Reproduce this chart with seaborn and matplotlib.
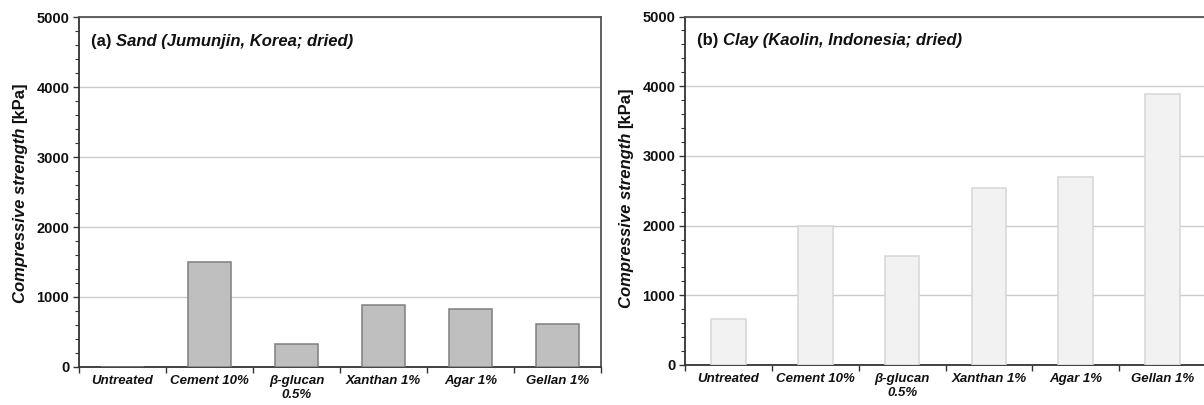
import matplotlib
matplotlib.use("Agg")
import matplotlib.pyplot as plt
import matplotlib.transforms as mtransforms
from matplotlib.ticker import MultipleLocator, FixedLocator
import seaborn as sns
import pandas as pd

# ---- data -------------------------------------------------------------
categories = ["Untreated", "Cement 10%", "β-glucan\n0.5%", "Xanthan 1%", "Agar 1%", "Gellan 1%"]
sand_strength = [0, 1500, 330, 880, 830, 610]      # kPa
clay_strength = [660, 2000, 1570, 2540, 2700, 3890]  # kPa

panel_tags = ["(a)", "(b)"]
panel_titles = ["Sand (Jumunjin, Korea; dried)", "Clay (Kaolin, Indonesia; dried)"]
ylabel_main = "Compressive strength"
ylabel_unit = "[kPa]"
y_ticks = [0, 1000, 2000, 3000, 4000, 5000]

# ---- style ------------------------------------------------------------
sns.set_theme(style="white")
plt.rcParams["font.family"] = ["Liberation Sans", "DejaVu Sans"]
plt.rcParams["font.weight"] = "bold"

fig = plt.figure(figsize=(12.04, 4.05), dpi=100)
ax_a = fig.add_axes([79 / 1204, 38 / 405, 522 / 1204, 350 / 405])
ax_b = fig.add_axes([685 / 1204, 40 / 405, 521 / 1204, 348.5 / 405])

panels = [
    (ax_a, sand_strength, "#bfbfbf", "#7f7f7f", 0.5),
    (ax_b, clay_strength, "#f2f2f2", "#d6d6d6", 0.4),
]

renderer = fig.canvas.get_renderer()


def chained_text(ax, x, y, pieces, rotation=0, center=False, **kw):
    """Draw consecutive text pieces with different styles along one line."""
    texts = []
    sizes = []
    for s, style in pieces:
        t = ax.text(x, y, s, transform=ax.transAxes, fontstyle=style,
                    rotation=rotation, rotation_mode="anchor", ha="left", **kw)
        bb = t.get_window_extent(renderer=renderer)
        texts.append(t)
        sizes.append(bb.height if rotation == 90 else bb.width)
    total = sum(sizes)
    start = -total / 2 if center else 0
    for t, sz in zip(texts, sizes):
        if rotation == 90:
            tr = mtransforms.offset_copy(ax.transAxes, fig=fig, x=0, y=start, units="dots")
        else:
            tr = mtransforms.offset_copy(ax.transAxes, fig=fig, x=start, y=0, units="dots")
        t.set_transform(tr)
        start += sz
    return texts


for i, (ax, values, fill, edge, width) in enumerate(panels):
    df = pd.DataFrame({"treatment": categories, "strength": values})
    sns.barplot(data=df, x="treatment", y="strength", ax=ax, color=fill,
                width=width, edgecolor=edge, linewidth=1.1, saturation=1,
                errorbar=None, zorder=3)

    ax.set_xlim(-0.5, len(categories) - 0.5)
    ax.set_ylim(0, 5000)
    ax.set_yticks(y_ticks)
    ax.yaxis.set_minor_locator(MultipleLocator(200))
    ax.set_xticks(range(len(categories)))
    ax.set_xticklabels(categories, fontsize=9.5, fontstyle="italic",
                       fontweight="bold", color="#111111", linespacing=1.2)
    ax.xaxis.set_minor_locator(FixedLocator([k - 0.5 for k in range(len(categories) + 1)]))
    for lbl in ax.get_yticklabels():
        lbl.set_fontsize(10.5)
        lbl.set_fontweight("bold")
        lbl.set_color("#111111")

    ax.tick_params(axis="x", which="major", length=0, pad=6)
    ax.tick_params(axis="x", which="minor", direction="out", length=4,
                   width=1.0, color="#333333", bottom=True)
    ax.tick_params(axis="y", which="major", direction="out", length=4,
                   width=1.0, color="#333333", left=True, pad=3)
    ax.tick_params(axis="y", which="minor", direction="out", length=3,
                   width=0.8, color="#333333", left=True)

    ax.yaxis.grid(True, which="major", color="#cccccc", linewidth=1.0, zorder=0)
    ax.xaxis.grid(False)
    ax.set_axisbelow(True)

    for side in ["left", "bottom"]:
        ax.spines[side].set_color("#333333")
        ax.spines[side].set_linewidth(1.3)
    for side in ["top", "right"]:
        ax.spines[side].set_color("#555555")
        ax.spines[side].set_linewidth(1.3)

    ax.set_xlabel("")
    ax.set_ylabel("")

    # panel heading: tag upright, description italic
    chained_text(ax, 12 / 522, 1 - 24 / 350,
                 [(panel_tags[i] + " ", "normal"), (panel_titles[i], "italic")],
                 fontsize=12, fontweight="bold", va="center",
                 color="#111111")

# y-axis titles (pixel centre of each rotated label)
label_pos = [(20, 193), (626, 198)]
for ax, (lx, ly) in zip([ax_a, ax_b], label_pos):
    pos = ax.get_position()
    x_axes = (lx / 1204 - pos.x0) / pos.width
    y_axes = ((405 - ly) / 405 - pos.y0) / pos.height
    chained_text(ax, x_axes, y_axes,
                 [(ylabel_main + " ", "italic"), (ylabel_unit, "normal")],
                 rotation=90, center=True, fontsize=12, fontweight="bold",
                 va="center", color="#111111")

fig.savefig("out.png", dpi=100, facecolor="white")
